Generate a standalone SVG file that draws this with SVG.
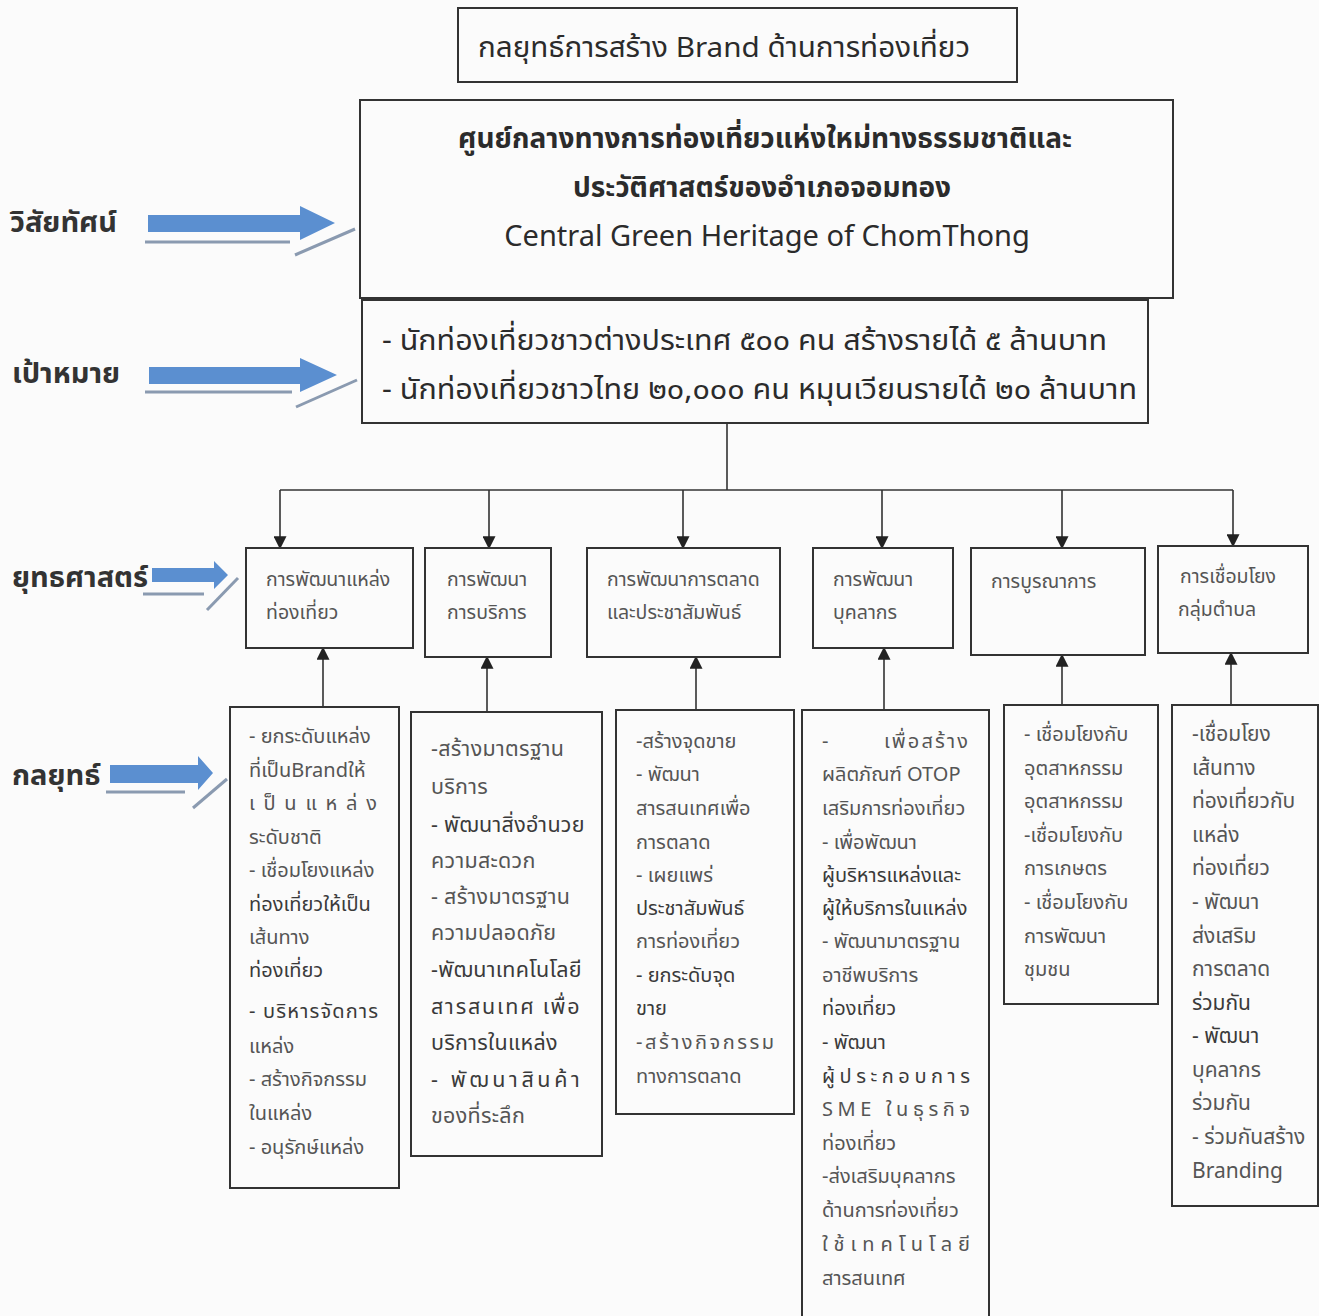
<svg xmlns="http://www.w3.org/2000/svg" width="1319" height="1316" viewBox="0 0 1319 1316">
<defs>
<style>
text{font-family:"Noto Sans Thai","Tahoma","Noto Sans","DejaVu Sans",sans-serif;fill:#2b2b2b}
.box{fill:none;stroke:#333;stroke-width:2}
.lab{font-size:29px;font-weight:bold;fill:#333}
.big{font-size:28px;fill:#2b2b2b}
.st{font-size:19.5px;fill:#555}
.s{font-size:20px;fill:#555}
.b{font-size:20px;fill:#3a3a3a}
.k2 text{font-size:21.5px;letter-spacing:0.3px}
.k6 text{font-size:21px}
.c{stroke:#333;stroke-width:1.6;fill:none}
.bl{fill:#5b8fd0}
.ul{stroke:#8a9ab0;stroke-width:3}
</style>
<marker id="ah" viewBox="0 0 10 10" refX="9" refY="5" markerWidth="13" markerHeight="13" markerUnits="userSpaceOnUse" orient="auto"><path d="M0,0 L10,5 L0,10 z" fill="#222"/></marker>
</defs>
<rect width="1319" height="1316" fill="#fbfbfb"/>

<g id="labels">
<text class="lab" x="10" y="232">วิสัยทัศน์</text>
<text class="lab" x="12" y="383">เป้าหมาย</text>
<text class="lab" x="12" y="587">ยุทธศาสตร์</text>
<text class="lab" x="12" y="785">กลยุทธ์</text>
</g>

<g id="blue-arrows">
<path class="bl" d="M148,215 L300,215 L300,206 L335,223 L300,240 L300,232 L148,232 z"/>
<line class="ul" x1="145" y1="242" x2="290" y2="242"/>
<line class="ul" x1="295" y1="255" x2="355" y2="229"/>
<path class="bl" d="M149,367 L300,367 L300,358 L337,375 L300,392 L300,384 L149,384 z"/>
<line class="ul" x1="145" y1="392" x2="292" y2="392"/>
<line class="ul" x1="296" y1="407" x2="357" y2="380"/>
<path class="bl" d="M152,568 L214,568 L214,561 L228,575 L214,589 L214,582 L152,582 z"/>
<line class="ul" x1="143" y1="594" x2="204" y2="594"/>
<line class="ul" x1="207" y1="610" x2="238" y2="578"/>
<path class="bl" d="M110,765 L198,765 L198,756 L213,773 L198,790 L198,783 L110,783 z"/>
<line class="ul" x1="106" y1="792" x2="185" y2="792"/>
<line class="ul" x1="193" y1="808" x2="227" y2="779"/>
</g>

<g id="title">
<rect class="box" x="458" y="8" width="559" height="74"/>
<text class="big" x="478" y="57" textLength="492" lengthAdjust="spacingAndGlyphs">กลยุทธ์การสร้าง Brand ด้านการท่องเที่ยว</text>
</g>

<g id="vision">
<rect class="box" x="360" y="100" width="813" height="198"/>
<text x="765" y="148" text-anchor="middle" font-size="28" font-weight="bold">ศูนย์กลางทางการท่องเที่ยวแห่งใหม่ทางธรรมชาติและ</text>
<text x="762" y="197" text-anchor="middle" font-size="28" font-weight="bold">ประวัติศาสตร์ของอำเภอจอมทอง</text>
<text x="767" y="246" text-anchor="middle" font-size="29">Central Green Heritage of ChomThong</text>
</g>

<g id="goal">
<rect class="box" x="362" y="300" width="786" height="123"/>
<text x="382" y="350" font-size="29" textLength="725" lengthAdjust="spacingAndGlyphs">- นักท่องเที่ยวชาวต่างประเทศ  ๕๐๐ คน สร้างรายได้ ๕ ล้านบาท</text>
<text x="382" y="399" font-size="29" textLength="755" lengthAdjust="spacingAndGlyphs">- นักท่องเที่ยวชาวไทย  ๒๐,๐๐๐ คน หมุนเวียนรายได้ ๒๐ ล้านบาท</text>
</g>

<g id="connectors">
<line class="c" x1="727" y1="423" x2="727" y2="490"/>
<line class="c" x1="280" y1="490" x2="1233" y2="490"/>
<line class="c" x1="280" y1="490" x2="280" y2="548" marker-end="url(#ah)"/>
<line class="c" x1="489" y1="490" x2="489" y2="548" marker-end="url(#ah)"/>
<line class="c" x1="683" y1="490" x2="683" y2="548" marker-end="url(#ah)"/>
<line class="c" x1="882" y1="490" x2="882" y2="548" marker-end="url(#ah)"/>
<line class="c" x1="1062" y1="490" x2="1062" y2="548" marker-end="url(#ah)"/>
<line class="c" x1="1233" y1="490" x2="1233" y2="546" marker-end="url(#ah)"/>
<line class="c" x1="323" y1="707" x2="323" y2="648" marker-end="url(#ah)"/>
<line class="c" x1="487" y1="712" x2="487" y2="657" marker-end="url(#ah)"/>
<line class="c" x1="696" y1="710" x2="696" y2="657" marker-end="url(#ah)"/>
<line class="c" x1="884" y1="710" x2="884" y2="648" marker-end="url(#ah)"/>
<line class="c" x1="1062" y1="705" x2="1062" y2="655" marker-end="url(#ah)"/>
<line class="c" x1="1231" y1="705" x2="1231" y2="653" marker-end="url(#ah)"/>
</g>

<g id="st1">
<rect class="box" x="246" y="548" width="167" height="100"/>
<text class="st" x="266" y="586">การพัฒนาแหล่ง</text>
<text class="st" x="266" y="619">ท่องเที่ยว</text>
</g>
<g id="st2">
<rect class="box" x="425" y="548" width="126" height="109"/>
<text class="st" x="447" y="586">การพัฒนา</text>
<text class="st" x="447" y="619">การบริการ</text>
</g>
<g id="st3">
<rect class="box" x="587" y="548" width="193" height="109"/>
<text class="st" x="607" y="586">การพัฒนาการตลาด</text>
<text class="st" x="607" y="619">และประชาสัมพันธ์</text>
</g>
<g id="st4">
<rect class="box" x="813" y="548" width="140" height="100"/>
<text class="st" x="833" y="586">การพัฒนา</text>
<text class="st" x="833" y="619">บุคลากร</text>
</g>
<g id="st5">
<rect class="box" x="971" y="548" width="174" height="107"/>
<text class="st" x="991" y="588">การบูรณาการ</text>
</g>
<g id="st6">
<rect class="box" x="1158" y="546" width="150" height="107"/>
<text class="st" x="1180" y="583">การเชื่อมโยง</text>
<text class="st" x="1178" y="616">กลุ่มตำบล</text>
</g>

<g id="k1">
<rect class="box" x="230" y="707" width="169" height="481"/>
<text class="s" x="249" y="743">- ยกระดับแหล่ง</text>
<text class="s" x="249" y="777">ที่เป็นBrandให้</text>
<text class="s" x="249" y="810" textLength="128" lengthAdjust="spacing">เป็นแหล่ง</text>
<text class="s" x="249" y="844">ระดับชาติ</text>
<text class="s" x="249" y="877">- เชื่อมโยงแหล่ง</text>
<text class="b" x="249" y="911">ท่องเที่ยวให้เป็น</text>
<text class="s" x="249" y="944">เส้นทาง</text>
<text class="b" x="249" y="977">ท่องเที่ยว</text>
<text class="b" x="249" y="1018" textLength="129" lengthAdjust="spacing">- บริหารจัดการ</text>
<text class="s" x="249" y="1053">แหล่ง</text>
<text class="s" x="249" y="1086">- สร้างกิจกรรม</text>
<text class="s" x="249" y="1120">ในแหล่ง</text>
<text class="s" x="249" y="1154">- อนุรักษ์แหล่ง</text>
</g>

<g id="k2" class="k2">
<rect class="box" x="411" y="712" width="191" height="444"/>
<text class="s" x="431" y="756">-สร้างมาตรฐาน</text>
<text class="s" x="431" y="794">บริการ</text>
<text class="b" x="431" y="832">- พัฒนาสิ่งอำนวย</text>
<text class="s" x="431" y="868">ความสะดวก</text>
<text class="s" x="431" y="904">- สร้างมาตรฐาน</text>
<text class="s" x="431" y="940">ความปลอดภัย</text>
<text class="b" x="431" y="977">-พัฒนาเทคโนโลยี</text>
<text class="b" x="431" y="1014" textLength="149" lengthAdjust="spacing">สารสนเทศ เพื่อ</text>
<text class="b" x="431" y="1050">บริการในแหล่ง</text>
<text class="b" x="431" y="1087" textLength="149" lengthAdjust="spacing">- พัฒนาสินค้า</text>
<text class="s" x="431" y="1123">ของที่ระลึก</text>
</g>

<g id="k3">
<rect class="box" x="616" y="710" width="178" height="404"/>
<text class="s" x="636" y="748">-สร้างจุดขาย</text>
<text class="s" x="636" y="781">- พัฒนา</text>
<text class="s" x="636" y="815">สารสนเทศเพื่อ</text>
<text class="s" x="636" y="849">การตลาด</text>
<text class="s" x="636" y="882">- เผยแพร่</text>
<text class="b" x="636" y="915">ประชาสัมพันธ์</text>
<text class="s" x="636" y="948">การท่องเที่ยว</text>
<text class="b" x="636" y="982">- ยกระดับจุด</text>
<text class="b" x="636" y="1015">ขาย</text>
<text class="s" x="636" y="1049" textLength="138" lengthAdjust="spacing">-สร้างกิจกรรม</text>
<text class="s" x="636" y="1083">ทางการตลาด</text>
</g>

<g id="k4">
<rect class="box" x="802" y="710" width="187" height="620"/>
<text class="s" x="822" y="748">-</text>
<text class="s" x="884" y="748" textLength="84" lengthAdjust="spacing">เพื่อสร้าง</text>
<text class="s" x="822" y="781">ผลิตภัณฑ์ OTOP</text>
<text class="s" x="822" y="815">เสริมการท่องเที่ยว</text>
<text class="s" x="822" y="849">- เพื่อพัฒนา</text>
<text class="b" x="822" y="882">ผู้บริหารแหล่งและ</text>
<text class="b" x="822" y="915">ผู้ให้บริการในแหล่ง</text>
<text class="s" x="822" y="948">- พัฒนามาตรฐาน</text>
<text class="s" x="822" y="982">อาชีพบริการ</text>
<text class="b" x="822" y="1015">ท่องเที่ยว</text>
<text class="b" x="822" y="1049">- พัฒนา</text>
<text class="b" x="822" y="1083" textLength="148" lengthAdjust="spacing">ผู้ประกอบการ</text>
<text class="s" x="822" y="1116" textLength="148" lengthAdjust="spacing">SME ในธุรกิจ</text>
<text class="s" x="822" y="1150">ท่องเที่ยว</text>
<text class="s" x="822" y="1183">-ส่งเสริมบุคลากร</text>
<text class="s" x="822" y="1217">ด้านการท่องเที่ยว</text>
<text class="s" x="822" y="1251" textLength="148" lengthAdjust="spacing">ใช้เทคโนโลยี</text>
<text class="s" x="822" y="1285">สารสนเทศ</text>
</g>

<g id="k5">
<rect class="box" x="1004" y="705" width="154" height="299"/>
<text class="s" x="1024" y="741">- เชื่อมโยงกับ</text>
<text class="s" x="1024" y="775">อุตสาหกรรม</text>
<text class="s" x="1024" y="808">อุตสาหกรรม</text>
<text class="s" x="1024" y="842">-เชื่อมโยงกับ</text>
<text class="s" x="1024" y="875">การเกษตร</text>
<text class="s" x="1024" y="909">- เชื่อมโยงกับ</text>
<text class="s" x="1024" y="943">การพัฒนา</text>
<text class="s" x="1024" y="976">ชุมชน</text>
</g>

<g id="k6" class="k6">
<rect class="box" x="1172" y="705" width="146" height="501"/>
<text class="s" x="1192" y="741">-เชื่อมโยง</text>
<text class="s" x="1192" y="775">เส้นทาง</text>
<text class="s" x="1192" y="808">ท่องเที่ยวกับ</text>
<text class="s" x="1192" y="842">แหล่ง</text>
<text class="s" x="1192" y="875">ท่องเที่ยว</text>
<text class="s" x="1192" y="909">- พัฒนา</text>
<text class="s" x="1192" y="943">ส่งเสริม</text>
<text class="s" x="1192" y="976">การตลาด</text>
<text class="b" x="1192" y="1010">ร่วมกัน</text>
<text class="b" x="1192" y="1043">- พัฒนา</text>
<text class="s" x="1192" y="1077">บุคลากร</text>
<text class="s" x="1192" y="1110">ร่วมกัน</text>
<text class="s" x="1192" y="1144">- ร่วมกันสร้าง</text>
<text class="s" x="1192" y="1178">Branding</text>
</g>
</svg>
